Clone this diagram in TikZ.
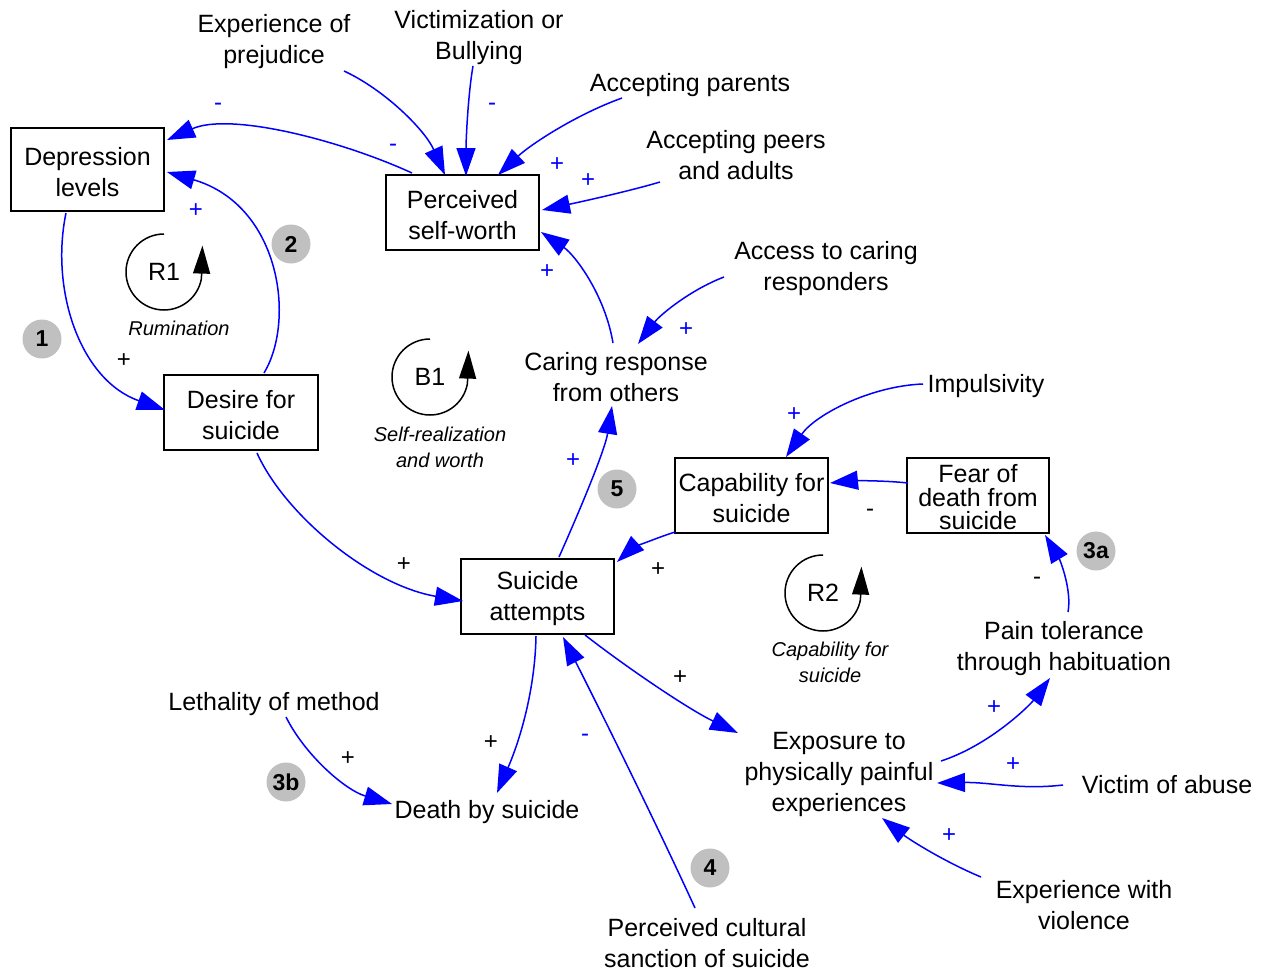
\documentclass[tikz,border=0pt]{standalone}
\usepackage{fontspec}
\setmainfont{Liberation Sans}
\usetikzlibrary{arrows.meta,calc}
\definecolor{tagfill}{RGB}{192,192,192}

\begin{document}
\begin{tikzpicture}[x=1pt,y=-1pt,
  txt/.style={font=\fontsize{25}{31}\selectfont, align=center, inner sep=0pt},
  var/.style={draw, line width=1.5pt, minimum width=153pt, minimum height=75pt, inner sep=0pt},
  vtext/.style={label={[txt, yshift=-2.5pt]center:{#1}}},
  lbl/.style={font=\fontsize{20}{26}\selectfont\itshape, align=center, inner sep=0pt},
  link/.style={draw=blue, line width=1.5pt, -{Triangle[length=28pt,width=19pt]}},
  loopar/.style={draw=black, line width=1.5pt, -{Triangle[length=28pt,width=17pt]}},
  loopname/.style={font=\fontsize{25}{25}\selectfont, inner sep=0pt},
  plus/.style={font=\fontsize{24}{24}\selectfont, inner sep=0pt, anchor=base, yshift=-8.4pt},
  minus/.style={font=\fontsize{24}{24}\selectfont, inner sep=0pt, anchor=base, yshift=-6.6pt},
  tag/.style={circle, fill=tagfill, minimum size=39pt, inner sep=0pt,
    font=\fontsize{23}{23}\selectfont\bfseries}]

\useasboundingbox (0,0) rectangle (1265,971);

% stocks (boxed variables)
\node[var, minimum height=83pt, vtext={Depression\\levels}] (dep) at (87.5,169.5) {};
\node[var, vtext={Perceived\\self-worth}] (sw)  at (462.5,212.5) {};
\node[var, minimum width=154pt, vtext={Desire for\\suicide}] (des) at (241,412.5) {};
\node[var, vtext={Suicide\\attempts}] (att) at (537.5,596.5) {};
\node[var, vtext={Capability for\\suicide}] (cap) at (751.5,495.5) {};
\node[var, minimum width=142pt,
  label={[txt, font=\fontsize{25}{23.5}\selectfont, yshift=-2pt]center:{Fear of\\death from\\suicide}}] (fear) at (978,495.5) {};

% auxiliary variables
\node[txt] (prej)    at (274,42)   {Experience of\\prejudice};
\node[txt] (vict)    at (479,38)   {Victimization or\\Bullying};
\node[txt] (parents) at (690,85)   {Accepting parents};
\node[txt] (peers)   at (736,155)  {Accepting peers\\and adults};
\node[txt] (access)  at (826,269)  {Access to caring\\responders};
\node[txt] (caring)  at (616,377)  {Caring response\\from others};
\node[txt] (impuls)  at (986,386)  {Impulsivity};
\node[txt] (pain)    at (1064,649) {Pain tolerance\\through habituation};
\node[txt] (leth)    at (274,704)  {Lethality of method};
\node[txt] (death)   at (487,812)  {Death by suicide};
\node[txt] (expo)    at (839,774)  {Exposure to\\physically painful\\experiences};
\node[txt] (abuse)   at (1167,785) {Victim of abuse};
\node[txt] (viol)    at (1084,905) {Experience with\\violence};
\node[txt] (cult)    at (707,943)  {Perceived cultural\\sanction of suicide};

% causal links
\draw[link] ($(sw)+(-50.5,-39.5)$) .. controls +(-72,-33) and +(63,-28) .. ($(dep)+(79.5,-29.5)$);
\draw[link] ($(des)+(23,-39.5)$) .. controls +(32,-53) and +(113,33) .. ($(dep)+(79.5,2.5)$);
\draw[link] ($(dep)+(-21.5,43.5)$) .. controls +(-16,77) and +(-85,-30) .. ($(des)+(-76,-2.5)$);
\draw[link] ($(des)+(16,40.5)$) .. controls +(28,62) and +(-93,-16) .. ($(att)+(-74.5,4.5)$);
\draw[link] ($(prej)+(70,29)$) .. controls +(41,19) and +(-20,-45) .. ($(sw)+(-17.5,-37.5)$);
\draw[link] ($(vict)+(-6,28)$) .. controls +(-5,29) and +(0,-36) .. ($(sw)+(3.5,-36.5)$);
\draw[link] ($(parents)+(-68,13)$) .. controls +(-47,17) and +(32,-30) .. ($(sw)+(35.5,-37.5)$);
\draw[link] ($(peers)+(-76,27)$) .. controls +(-30,9) and +(38,-8) .. ($(sw)+(79.5,-2.5)$);
\draw[link] ($(caring)+(-3,-34)$) .. controls +(-8,-48) and +(34,23) .. ($(sw)+(78.5,19.5)$);
\draw[link] ($(access)+(-102,8)$) .. controls +(-34,13) and +(22,-29) .. ($(caring)+(22,-33)$);
\draw[link] ($(att)+(21.5,-39.5)$) .. controls +(21,-47) and +(-7,44) .. ($(caring)+(-4,29)$);
\draw[link] ($(impuls)+(-63,-2)$) .. controls +(-53,2) and +(29,-42) .. ($(cap)+(34.5,-38.5)$);
\draw[link] ($(fear)+(-70,-12.5)$) .. controls +(-28,-3) and +(20,-2) .. ($(cap)+(78.5,-12.5)$);
\draw[link] ($(cap)+(-76.5,36.5)$) .. controls +(-25,8) and +(13,-12) .. ($(att)+(79.5,-34.5)$);
\draw[link] ($(pain)+(4,-37)$) .. controls +(4,-22) and +(15,25) .. ($(fear)+(67,39.5)$);
\draw[link] ($(att)+(47.5,38.5)$) .. controls +(45,35) and +(-48,-23) .. ($(expo)+(-101,-41)$);
\draw[link] ($(expo)+(102,-13)$) .. controls +(49,-16) and +(-20,27) .. ($(pain)+(-14,29)$);
\draw[link] ($(abuse)+(-104,0)$) .. controls +(-43,5) and +(53,-1) .. ($(expo)+(98,9)$);
\draw[link] ($(viol)+(-103,-28)$) .. controls +(-36,-15) and +(28,22) .. ($(expo)+(43,44)$);
\draw[link] ($(att)+(-1.5,39.5)$) .. controls +(-1,54) and +(23,-53) .. ($(death)+(10,-19)$);
\draw[link] ($(cult)+(-12,-35)$) .. controls +(-45,-98) and +(27,53) .. ($(att)+(25.5,40.5)$);
\draw[link] ($(leth)+(12,13)$) .. controls +(19,38) and +(-47,-14) .. ($(death)+(-95,-8)$);

% link polarities
\node[minus, text=blue] (p1)  at (218,104) {-};
\node[minus, text=blue] (p2)  at (393,145) {-};
\node[minus, text=blue] (p3)  at (492,104) {-};
\node[plus,  text=blue] (p4)  at (557,163) {+};
\node[plus,  text=blue] (p5)  at (588,179) {+};
\node[plus,  text=blue] (p6)  at (196,209) {+};
\node[plus,  text=blue] (p7)  at (547,270) {+};
\node[plus,  text=blue] (p8)  at (686,328) {+};
\node[plus,  text=blue] (p9)  at (794,413) {+};
\node[plus,  text=blue] (p10) at (573,459) {+};
\node[plus,  text=blue] (p11) at (994,706) {+};
\node[plus,  text=blue] (p12) at (1013,763) {+};
\node[plus,  text=blue] (p13) at (949,834) {+};
\node[minus, text=blue] (p14) at (585,735) {-};
\node[plus]  (p15) at (124,359) {+};
\node[minus] (p16) at (870,510) {-};
\node[plus]  (p17) at (658,568) {+};
\node[plus]  (p18) at (404,563) {+};
\node[minus] (p19) at (1037,578) {-};
\node[plus]  (p20) at (680,676) {+};
\node[plus]  (p21) at (491,741) {+};
\node[plus]  (p22) at (348,757) {+};

% feedback loop markers
\node[loopname] (r1) at (164,272) {R1};
\draw[loopar] ($(r1)+(0,-38)$) arc[start angle=270, end angle=10, radius=38] -- ++(1,-33);
\node[lbl] (r1t) at (179,328) {Rumination};

\node[loopname] (b1) at (430,377) {B1};
\draw[loopar] ($(b1)+(0,-38)$) arc[start angle=270, end angle=10, radius=38] -- ++(1,-33);
\node[lbl] (b1t) at (440,447) {Self-realization\\and worth};

\node[loopname] (r2) at (823,593) {R2};
\draw[loopar] ($(r2)+(0,-38)$) arc[start angle=270, end angle=10, radius=38] -- ++(1,-33);
\node[lbl] (r2t) at (830,662) {Capability for\\suicide};

% numbered hypotheses
\node[tag] (t1)  at (42,339)   {1};
\node[tag] (t2)  at (291,244)  {2};
\node[tag] (t5)  at (617,489)  {5};
\node[tag] (t3a) at (1096,551) {3a};
\node[tag] (t3b) at (286,782)  {3b};
\node[tag] (t4)  at (710,868)  {4};
\end{tikzpicture}
\end{document}
